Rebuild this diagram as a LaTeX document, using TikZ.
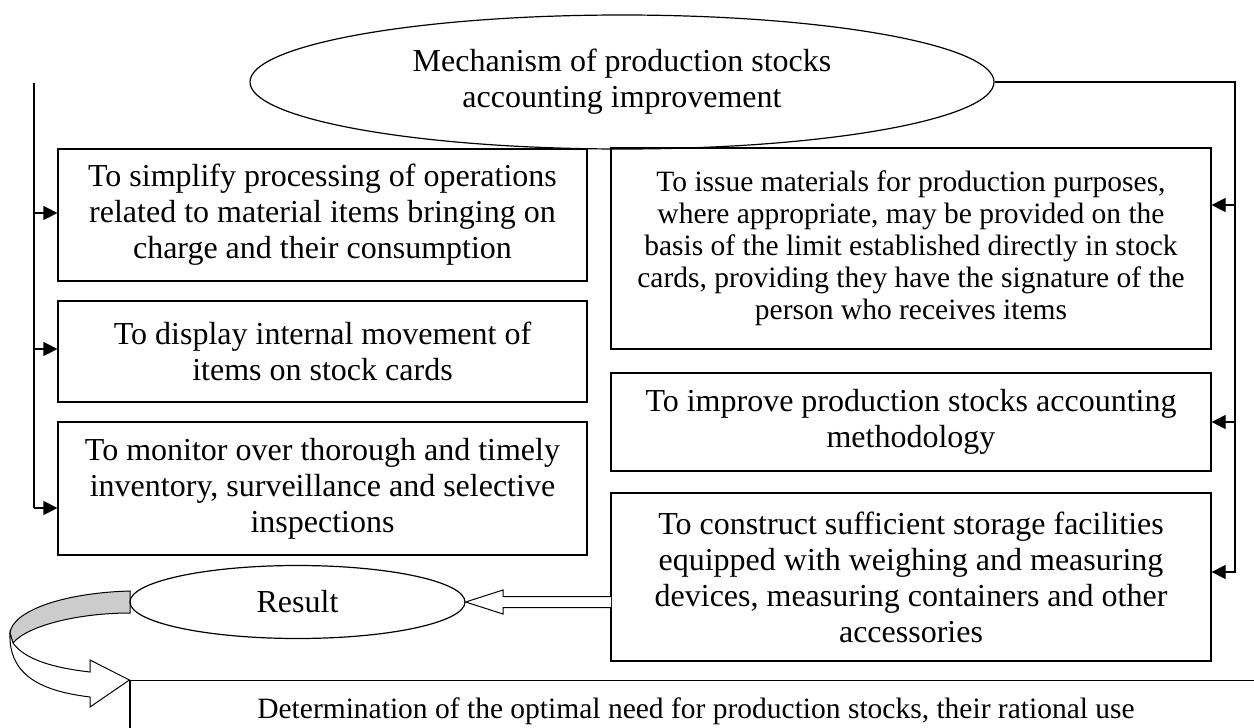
\documentclass[tikz,border=0pt]{standalone}
\usepackage{fontspec}
\setmainfont{Liberation Serif}
\usetikzlibrary{arrows.meta,shapes.geometric}
\begin{document}
\begin{tikzpicture}[x=1pt,y=-1pt,
  box/.style={draw,line width=1.2pt,align=center,inner sep=0pt,font=\fontsize{32}{36}\selectfont},
  oval/.style={draw,ellipse,line width=1.2pt,inner sep=0pt,align=center,font=\fontsize{32}{36}\selectfont},
  conn/.style={line width=1.2pt},
  arr/.style={conn,-{Triangle[length=14pt,width=14pt]}},
  hollow/.style={line width=1pt,fill=white,line join=miter},
  curvy/.style={line width=1pt,line join=miter}
]
\useasboundingbox (0,0) rectangle (1254,728);
\node[oval,minimum width=744pt,minimum height=134pt] (M) at (622,82) {Mechanism of production stocks\\accounting improvement};

\node[box,minimum width=529pt,minimum height=132pt] (L1) at (322.5,215) {To simplify processing of operations\\related to material items bringing on\\charge and their consumption};
\node[box,minimum width=529pt,minimum height=101pt] (L2) at (322.5,351.5) {To display internal movement of\\items on stock cards};
\node[box,minimum width=529pt,minimum height=133pt] (L3) at (322.5,488.5) {To monitor over thorough and timely\\inventory, surveillance and selective\\inspections};

\node[box,minimum width=600pt,minimum height=201pt,font=\fontsize{29.5}{32}\selectfont] (R1) at (911,248.5) {To issue materials for production purposes,\\where appropriate, may be provided on the\\basis of the limit established directly in stock\\cards, providing they have the signature of the\\person who receives items};
\node[box,minimum width=600pt,minimum height=98pt] (R2) at (911,422) {To improve production stocks accounting\\methodology};
\node[box,minimum width=600pt,minimum height=168pt] (R3) at (911,577) {To construct sufficient storage facilities\\equipped with weighing and measuring\\devices, measuring containers and other\\accessories};

\node[box,anchor=north,minimum width=1132pt,minimum height=62pt,font=\fontsize{29.5}{32}\selectfont] (B) at (696,680) {Determination of the optimal need for production stocks, their rational use};

% curved arrow from Result to the bottom box
\draw[curvy,fill=gray!40] (130,591) .. controls (60,593) and (12,612) .. (10,633) -- (13,643) .. controls (28,625) and (80,613) .. (130,613) -- cycle;
\draw[curvy,fill=white] (10,633) .. controls (8,680) and (50,692) .. (90,697) -- (90,707) -- (B.north west) -- (90,660) -- (90,672) .. controls (55,668) and (25,660) .. (13,643) -- cycle;

\node[oval,minimum width=335pt,minimum height=73pt] (Res) at (297.5,602) {Result};

% left connectors
\coordinate (lt) at (34,83);
\coordinate (lb) at (34,508);
\coordinate (la1) at (34,213);
\coordinate (la2) at (34,349);
\draw[conn] (lt) -- (lb);
\draw[arr] (lb) -- (lb -| L3.west);
\draw[arr] (la1) -- (la1 -| L1.west);
\draw[arr] (la2) -- (la2 -| L2.west);

% right connectors
\coordinate (rb) at (1235,572);
\coordinate (ra1) at (1235,205);
\coordinate (ra2) at (1235,422);
\draw[arr] (M.east) -- (M.east -| rb) -- (rb) -- (rb -| R3.east);
\draw[arr] (ra1) -- (ra1 -| R1.east);
\draw[arr] (ra2) -- (ra2 -| R2.east);

% hollow arrow from R3 to Result
\coordinate (s1) at (611,596.5);
\coordinate (s2) at (611,607.5);
\draw[hollow] (s1) -- (503,596.5) -- (503,590) -- (Res.east) -- (503,614) -- (503,607.5) -- (s2);
\end{tikzpicture}
\end{document}
